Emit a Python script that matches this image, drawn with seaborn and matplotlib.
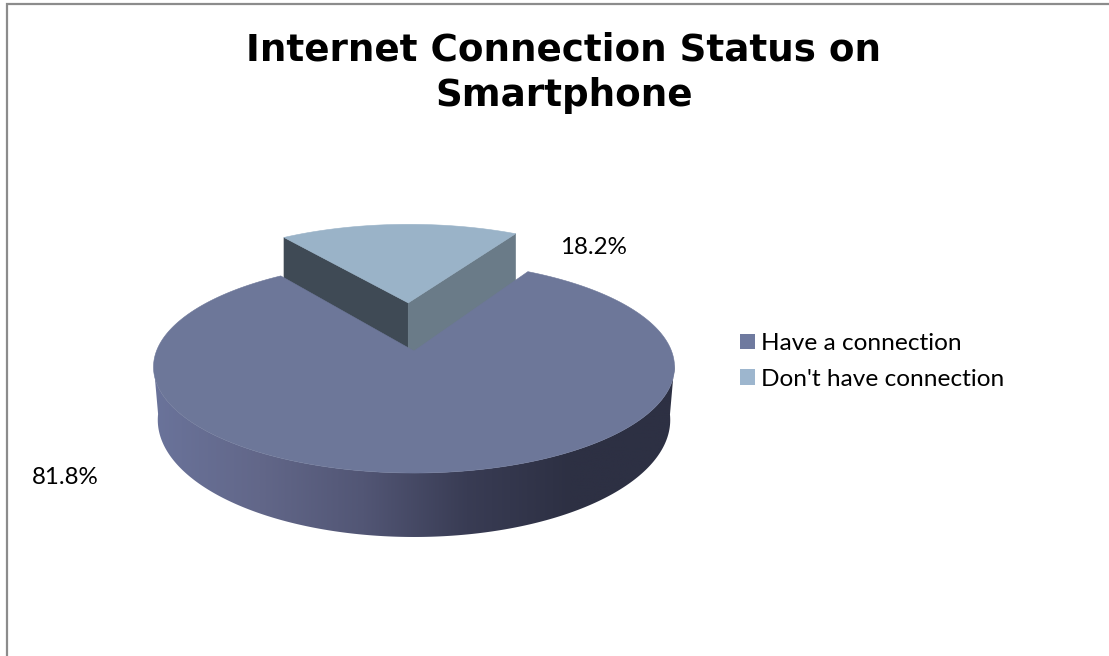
import numpy as np
import matplotlib
matplotlib.use("Agg")
import matplotlib.pyplot as plt
from matplotlib.patches import Patch, Polygon
import seaborn as sns

TITLE = "Internet Connection Status on\nSmartphone"
categories = ["Have a connection", "Don't have connection"]
shares = [81.8, 18.2]
share_labels = ["81.8%", "18.2%"]

TOP_MAIN = "#6d7799"
TOP_SLICE = "#9ab3c8"
WALL_LEFT = "#3f4a55"
WALL_RIGHT = "#6a7b88"
LEGEND_COLORS = ["#6f7a9f", "#9db6ce"]
WALL_STOPS = ["#6a739a", "#626789", "#525675", "#393c54", "#2d3043", "#2d3043"]

FIRST_ANGLE = 30.0
EXPLODE = 0.5
SLICE_DEPTH = 55

# Perspective parameters: upper disc and lower disc of the cylinder
UPPER = dict(cx=414.0, cy=351.0, a=103.6, c=0.151, d=257.5)
LOWER = dict(cx=414.0, cy=400.0, a=113.7, c=0.170, d=252.5)


def project(u, v, p):
    """Map disc coordinates (u right, v away from the viewer) to the page."""
    u, v = np.asarray(u, float), np.asarray(v, float)
    w = 1 + p["c"] * v
    return p["cx"] + p["d"] * u / w, p["cy"] - p["a"] * v / w


def sector(start, sweep, n=240, offset=(0.0, 0.0)):
    th = np.radians(np.linspace(start, start + sweep, n))
    return np.sin(th) + offset[0], np.cos(th) + offset[1]


sns.set_theme(style="white")
fig = plt.figure(figsize=(11.09, 6.56), dpi=100)
ax = fig.add_axes([0, 0, 1, 1])
ax.set_xlim(0, 1109)
ax.set_ylim(656, 0)
ax.axis("off")

# Chart frame (left and top edges are the ones in view)
ax.plot([7, 7, 1109], [656, 4, 4], color="#8c8c8c", lw=1.6, solid_joinstyle="miter", zorder=1)

sweeps = [s / sum(shares) * 360 for s in shares]

# Exploded slice: two cut faces, then its upper face
mid = np.radians(FIRST_ANGLE + sweeps[0] + sweeps[1] / 2)
off = (EXPLODE * np.sin(mid), EXPLODE * np.cos(mid))
apex_x, apex_y = project(off[0], off[1], UPPER)
su, sv = sector(FIRST_ANGLE + sweeps[0], sweeps[1], offset=off)
sx, sy = project(su, sv, UPPER)
for (cx_, cy_), col in (((sx[0], sy[0]), WALL_LEFT), ((sx[-1], sy[-1]), WALL_RIGHT)):
    ax.add_patch(Polygon([(cx_, cy_), (apex_x, apex_y), (apex_x, apex_y + SLICE_DEPTH),
                          (cx_, cy_ + SLICE_DEPTH)], closed=True, fc=col, ec=col, lw=0.4, zorder=2))
ax.add_patch(Polygon(np.r_[[[apex_x, apex_y]], np.c_[sx, sy]], closed=True,
                     fc=TOP_SLICE, ec=TOP_SLICE, lw=0.4, zorder=3))

# Main slice: outer wall is a horizontal colour ramp clipped to the front of the cylinder
mu, mv = sector(FIRST_ANGLE, sweeps[0], n=720)
tx, ty = project(mu, mv, UPPER)
bx, by = project(mu, mv, LOWER)
front = mv < -0.12
wall_outline = np.r_[np.c_[tx[front], ty[front]], np.c_[bx[front], by[front]][::-1]]
ramp = np.array(sns.blend_palette(WALL_STOPS, n_colors=512))[np.newaxis, :, :]
wall_clip = Polygon(wall_outline, closed=True, transform=ax.transData, fc="none", ec="none")
ax.add_patch(wall_clip)
wall_image = ax.imshow(ramp, extent=(155, 675, 560, 340), aspect="auto",
                       interpolation="bilinear", zorder=4)
wall_image.set_clip_path(wall_clip)
ax.set_xlim(0, 1109)
ax.set_ylim(656, 0)

# Main slice upper face, closed through the disc centre
cx0, cy0 = project(0, 0, UPPER)
ax.add_patch(Polygon(np.r_[[[cx0, cy0]], np.c_[tx, ty]], closed=True,
                     fc=TOP_MAIN, ec=TOP_MAIN, lw=0.4, zorder=5))

# Text
ax.text(564, 73, TITLE, ha="center", va="center", fontsize=26.8, fontweight="bold",
        family="DejaVu Sans", color="black", linespacing=1.29, zorder=6)
label_font = dict(family="Lato", fontsize=17.4, color="black", va="center", ha="center", zorder=6)
ax.text(65, 477, share_labels[0], **label_font)
ax.text(593, 248, share_labels[1], **label_font)

handles = [Patch(fc=c, ec="none", label=n) for c, n in zip(LEGEND_COLORS, categories)]
ax.legend(handles=handles, loc="center left", bbox_to_anchor=(740, 361.5), bbox_transform=ax.transData,
          frameon=False, handlelength=0.62, handleheight=0.62, handletextpad=0.24, labelspacing=0.6,
          borderpad=0, borderaxespad=0, labelcolor="black", prop=dict(family="Lato", size=17.6))

fig.savefig("out.png", dpi=100)
